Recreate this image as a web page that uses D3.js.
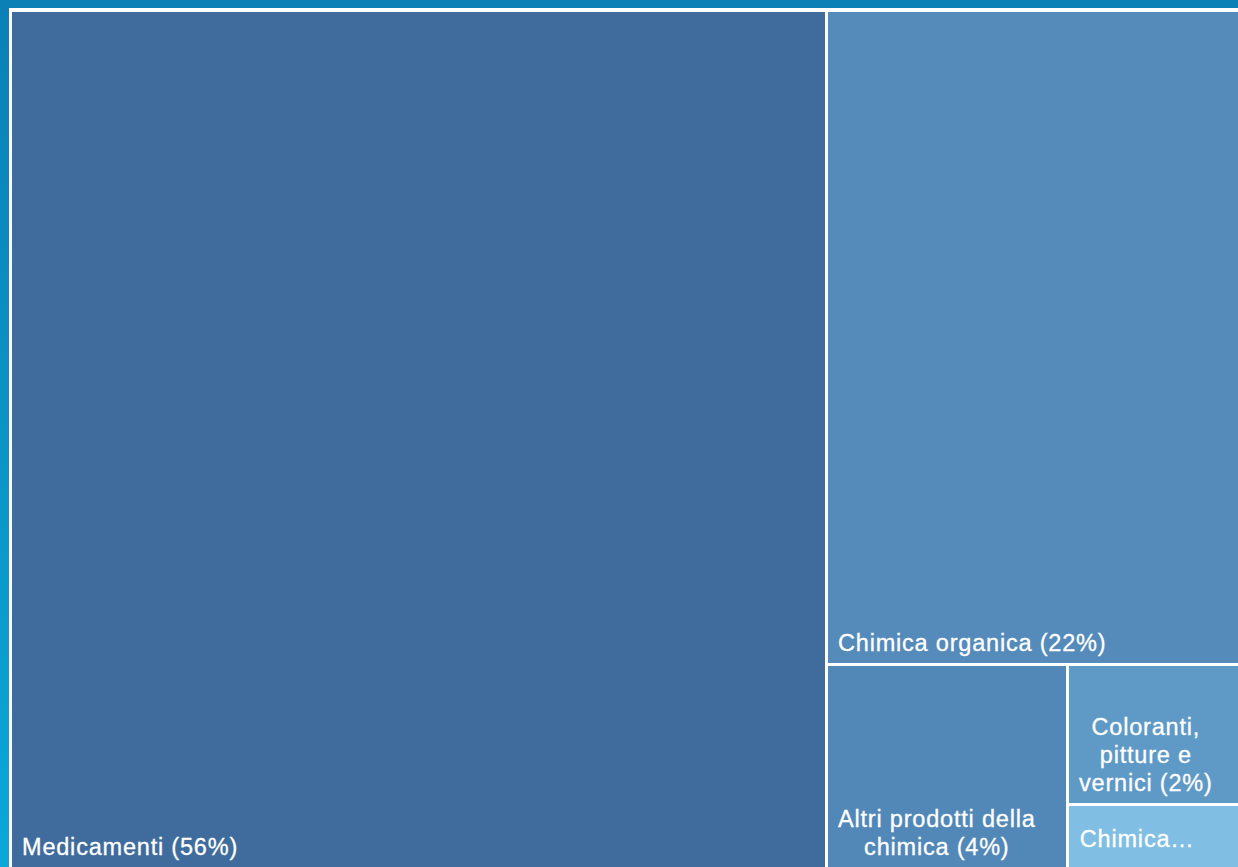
<!DOCTYPE html>
<html>
<head>
<meta charset="utf-8">
<script src="https://cdn.jsdelivr.net/npm/d3@7"></script>
<style>
  html, body { margin: 0; padding: 0; overflow: hidden; }
  svg { display: block; }
</style>
</head>
<body>
<div id="chart"></div>
<script>
const WIDTH = 1238;
const HEIGHT = 867;

// Export shares of the chemical sector (label % relative to the sector total)
const categories = [
  'Medicamenti',
  'Chimica organica',
  'Altri prodotti della chimica',
  'Coloranti, pitture e vernici',
  'Chimica inorganica'
];
const shares = [56.1, 21.7, 4.0, 1.95, 0.93];
const tileColors = ['#3f6c9c', '#548bba', '#5288b7', '#5f9ac7', '#80bee4'];

const FONT = '"Liberation Sans", Arial, sans-serif';
const FONT_SIZE = 23.5;
const LINE_H = 28;
const PAD = 10;
const ORIGIN = 12;

const svg = d3.select('#chart')
  .append('svg')
  .attr('width', WIDTH)
  .attr('height', HEIGHT);

const grad = svg.append('defs').append('linearGradient')
  .attr('id', 'bg')
  .attr('x1', 0).attr('y1', 0).attr('x2', 0).attr('y2', 1);
grad.append('stop').attr('offset', '0%').attr('stop-color', '#0a80b6');
grad.append('stop').attr('offset', '100%').attr('stop-color', '#0aa8d9');

svg.append('rect')
  .attr('width', WIDTH).attr('height', HEIGHT)
  .attr('fill', 'url(#bg)');

// white frame behind the tiles, the gaps show through
svg.append('rect')
  .attr('x', 9).attr('y', 8)
  .attr('width', WIDTH).attr('height', HEIGHT)
  .attr('fill', '#ffffff');

const data = categories.map((name, i) => ({ name, value: shares[i], color: tileColors[i] }));

const root = d3.hierarchy({ children: data })
  .sum((d) => d.value || 0)
  .sort((a, b) => b.value - a.value);

d3.treemap()
  .tile(d3.treemapSquarify)
  .size([WIDTH + 2 - ORIGIN, HEIGHT + 3 - ORIGIN])
  .paddingInner(3)
  .round(true)(root);

const cells = svg.append('g')
  .attr('transform', `translate(${ORIGIN},${ORIGIN})`)
  .selectAll('g')
  .data(root.leaves())
  .join('g');

cells.append('rect')
  .attr('x', (d) => d.x0)
  .attr('y', (d) => d.y0)
  .attr('width', (d) => d.x1 - d.x0)
  .attr('height', (d) => d.y1 - d.y0)
  .attr('fill', (d) => d.data.color);

// measure with a hidden text node
const probe = svg.append('text')
  .attr('font-family', FONT)
  .attr('font-size', FONT_SIZE)
  .style('letter-spacing', '0.8px')
  .attr('visibility', 'hidden');
function textWidth(s) {
  probe.text(s);
  return probe.node().getComputedTextLength();
}

function wrap(words, maxW) {
  const lines = [];
  let cur = '';
  words.forEach((w) => {
    const t = cur ? cur + ' ' + w : w;
    if (!cur || textWidth(t) <= maxW) cur = t;
    else { lines.push(cur); cur = w; }
  });
  if (cur) lines.push(cur);
  return lines;
}

cells.each(function (d) {
  const label = `${d.data.name} (${Math.round(d.data.value)}%)`;
  const w = d.x1 - d.x0;
  const h = d.y1 - d.y0;
  const bottom = Math.min(d.y1, HEIGHT - ORIGIN);
  let lines = wrap(label.split(' '), w - 2 * PAD);
  const boxW = d3.max(lines, textWidth);
  const maxLines = Math.max(1, Math.floor((h - 2 * PAD) / LINE_H));
  let truncated = false;
  if (lines.length > maxLines) {
    lines = lines.slice(0, maxLines);
    lines[maxLines - 1] += '…';
    truncated = true;
  }
  const centered = lines.length > 1 || truncated;
  const cx = d.x0 + PAD + boxW / 2;
  const lastBaseline = truncated
    ? d.y0 + h / 2 + FONT_SIZE * 0.4
    : bottom - 12;
  const text = d3.select(this).append('text')
    .attr('font-family', FONT)
    .attr('font-size', FONT_SIZE)
    .style('letter-spacing', '0.8px')
    .attr('fill', '#ffffff')
    .attr('stroke', '#ffffff')
    .attr('stroke-width', 0.3)
    .attr('text-anchor', centered ? 'middle' : 'start');
  lines.forEach((line, i) => {
    text.append('tspan')
      .attr('x', centered ? cx : d.x0 + PAD)
      .attr('y', lastBaseline - (lines.length - 1 - i) * LINE_H)
      .text(line);
  });
});

probe.remove();
</script>
</body>
</html>
